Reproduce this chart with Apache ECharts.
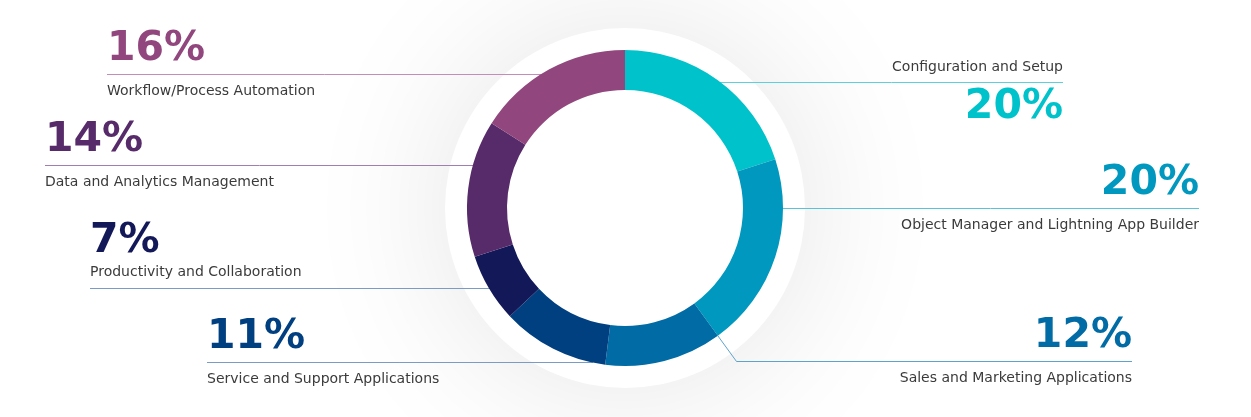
<!DOCTYPE html>
<html>
<head>
<meta charset="utf-8">
<script src="https://cdn.jsdelivr.net/npm/echarts@6/dist/echarts.min.js"></script>
<style>
html,body{margin:0;padding:0;background:#ffffff;}
#chart{width:1251px;height:417px;}
</style>
</head>
<body>
<div id="chart"></div>
<script>
// ---- data ----
const categories = [
  'Configuration and Setup',
  'Object Manager and Lightning App Builder',
  'Sales and Marketing Applications',
  'Service and Support Applications',
  'Productivity and Collaboration',
  'Data and Analytics Management',
  'Workflow/Process Automation'
];
const shares = [20, 20, 12, 11, 7, 14, 16];

// ---- styles ----
const sliceColors = ['#00C2CB', '#0098BF', '#006BA4', '#003F80', '#131858', '#572A6A', '#91467D'];
const lineColors  = ['#5FCFDB', '#5BC3D8', '#5FA3CC', '#7A9CC4', '#7A9CC4', '#A07FB0', '#C48DB7'];

// ---- layout ----
const CENTER = [625, 208];
const R_IN = 118, R_OUT = 158, R_DISC = 180;
const START_ANGLE = 90;
// text anchor x, leader line y, side, text arrangement
const anchors = [
  { x: 1063, lineY: 82,  side: 'right', mode: 'top' },
  { x: 1199, lineY: 208, side: 'right', mode: 'normal' },
  { x: 1132, lineY: 361, side: 'right', mode: 'normal', radial: true },
  { x: 207,  lineY: 362, side: 'left',  mode: 'normal' },
  { x: 90,   lineY: 288, side: 'left',  mode: 'tight' },
  { x: 45,   lineY: 165, side: 'left',  mode: 'normal' },
  { x: 107,  lineY: 74,  side: 'left',  mode: 'normal' }
];

const PCT_FONT = { fontFamily: 'DejaVu Sans', fontWeight: 'bold', fontSize: 41 };
const NAME_FONT = { fontFamily: 'DejaVu Sans', fontWeight: 'normal', fontSize: 14, color: '#3b3b3b' };
const MODES = {
  normal: { pLH: 55, nLH: 30, top: -52.5 },
  tight:  { pLH: 44, nLH: 19, top: -69 },
  top:    { pLH: 51, nLH: 30, top: -30 }
};

function buildLabel(i) {
  const a = anchors[i];
  const m = MODES[a.mode];
  const pct = shares[i] + '%';
  const formatter = a.mode === 'top'
    ? '{n|' + categories[i] + '}\n{p|' + pct + '}'
    : '{p|' + pct + '}\n{n|' + categories[i] + '}';
  return {
    show: true,
    formatter: formatter,
    rich: {
      p: Object.assign({}, PCT_FONT, { color: sliceColors[i], lineHeight: m.pLH }),
      n: Object.assign({}, NAME_FONT, { lineHeight: m.nLH })
    }
  };
}

const seriesData = categories.map((name, i) => ({
  name: name,
  value: shares[i],
  itemStyle: { color: sliceColors[i] },
  label: buildLabel(i),
  labelLine: { show: true, lineStyle: { color: lineColors[i], width: 1 } }
}));

const total = shares.reduce((s, v) => s + v, 0);
function sliceStartDeg(idx) {
  let acc = 0;
  for (let k = 0; k < idx; k++) acc += shares[k];
  return acc / total * 360; // clockwise from the start angle
}

function labelLayout(params) {
  const i = params.dataIndex;
  const a = anchors[i];
  const cx = CENTER[0], cy = CENTER[1];
  const y = a.lineY + 0.5;
  let pts;
  if (a.radial) {
    const th = (sliceStartDeg(i) + (90 - START_ANGLE)) * Math.PI / 180;
    const edge = [cx + R_OUT * Math.sin(th), cy - R_OUT * Math.cos(th)];
    const t = (cy - y) / Math.cos(th);
    const elbow = [cx + t * Math.sin(th), y];
    pts = [edge, elbow, [a.x, y]];
  } else {
    const dx = Math.sqrt(Math.max(0, R_OUT * R_OUT - (y - cy) * (y - cy)));
    const ex = a.side === 'left' ? cx - dx + 1 : cx + dx - 1;
    pts = [[ex, y], [(ex + a.x) / 2, y], [a.x, y]];
  }
  return {
    x: a.x,
    y: a.lineY + MODES[a.mode].top,
    align: a.side === 'left' ? 'left' : 'right',
    verticalAlign: 'top',
    labelLinePoints: pts
  };
}

const chart = echarts.init(document.getElementById('chart'), null, { renderer: 'canvas' });
chart.setOption({
  backgroundColor: '#ffffff',
  animation: false,
  series: [
    {
      type: 'pie',
      silent: true,
      z: 1,
      center: CENTER,
      radius: [0, R_DISC],
      label: { show: false },
      labelLine: { show: false },
      emphasis: { disabled: true },
      itemStyle: { color: '#ffffff', shadowBlur: 150, shadowColor: 'rgba(0,0,0,0.11)' },
      data: [{ value: 1, name: 'disc' }]
    },
    {
      type: 'pie',
      z: 3,
      center: CENTER,
      radius: [R_IN, R_OUT],
      startAngle: START_ANGLE,
      clockwise: true,
      avoidLabelOverlap: false,
      emphasis: { disabled: true },
      itemStyle: { borderWidth: 0 },
      label: { show: true, position: 'outside' },
      labelLine: { show: true },
      labelLayout: labelLayout,
      data: seriesData
    }
  ]
});
</script>
</body>
</html>
